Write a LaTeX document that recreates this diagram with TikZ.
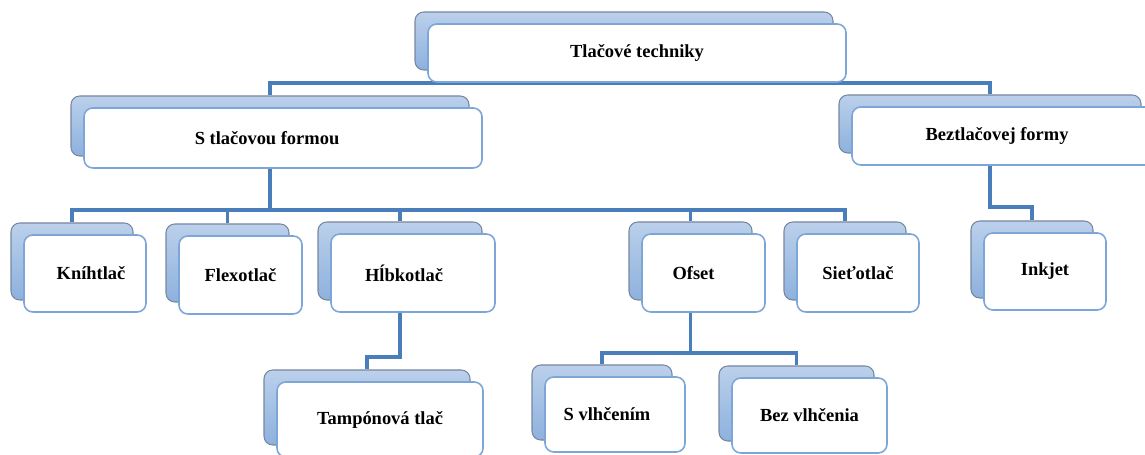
\documentclass[tikz,border=0pt]{standalone}
\usepackage{fontspec}
\setmainfont{Liberation Serif}
\usetikzlibrary{backgrounds}

\definecolor{linkblue}{RGB}{74,126,187}
\definecolor{backtop}{RGB}{187,208,235}
\definecolor{backbot}{RGB}{141,177,222}
\definecolor{backedge}{RGB}{120,135,158}
\definecolor{frontedge}{RGB}{125,166,216}

\begin{document}
\begin{tikzpicture}[x=0.02cm,y=-0.02cm,
  box/.style 2 args={minimum width=#1*0.02cm,minimum height=#2*0.02cm,inner sep=0pt},
  back/.style={draw=backedge,top color=backtop,bottom color=backbot,line width=0.6pt,rounded corners=5pt},
  front/.style={draw=frontedge,fill=white,line width=0.9pt,rounded corners=5pt,
    font=\bfseries\fontsize{10.5}{12}\selectfont},
  tl/.style={execute at end node={\hspace*{#1}}},
  tr/.style={execute at begin node={\hspace*{#1}}},
  link/.style={draw=linkblue,line width=2.1pt}]

\useasboundingbox (0,0) rectangle (1145,455);

% offset of the white box on top of the blue one
\def\dx{13}
\def\dy{12}

% level 0
\node[back,box={418}{58}] (topB) at (624,41) {};
\node[front,box={418}{58}] (top) at ([shift={(\dx,\dy)}]topB) {Tlačové techniky};

% level 1
\node[back,box={398}{60}] (stfB) at (270,126) {};
\node[front,box={398}{60},tl=0.64cm] (stf) at ([shift={(\dx,\dy)}]stfB) {S tlačovou formou};
\node[back,box={302}{58}] (bezB) at (990,124) {};
\node[front,box={302}{58},tl=0.24cm] (bez) at ([shift={(\dx,\dy)}]bezB) {Beztlačovej formy};

% level 2
\node[back,box={122}{77}] (knB) at (72,261.5) {};
\node[front,box={122}{77},tr=0.24cm] (kn) at ([shift={(\dx,\dy)}]knB) {Kníhtlač};
\node[back,box={123}{78}] (flB) at (227.5,263) {};
\node[front,box={123}{78}] (fl) at ([shift={(\dx,\dy)}]flB) {Flexotlač};
\node[back,box={164}{78}] (hlB) at (400,261) {};
\node[front,box={164}{78},tl=0.36cm] (hl) at ([shift={(\dx,\dy)}]hlB) {Hĺbkotlač};
\node[back,box={123}{78}] (ofB) at (690.5,261) {};
\node[front,box={123}{78},tl=0.4cm] (of) at ([shift={(\dx,\dy)}]ofB) {Ofset};
\node[back,box={122}{78}] (siB) at (845,261) {};
\node[front,box={122}{78}] (si) at ([shift={(\dx,\dy)}]siB) {Sieťotlač};
\node[back,box={122}{77}] (inB) at (1032,259.5) {};
\node[front,box={122}{77}] (in) at ([shift={(\dx,\dy)}]inB) {Inkjet};

% level 3
\node[back,box={206}{75}] (taB) at (367,407.5) {};
\node[front,box={206}{75}] (ta) at ([shift={(\dx,\dy)}]taB) {Tampónová tlač};
\node[back,box={140}{75}] (svB) at (602,402.5) {};
\node[front,box={140}{75},tl=0.32cm] (sv) at ([shift={(\dx,\dy)}]svB) {S vlhčením};
\node[back,box={155}{75}] (bvB) at (796.5,403.5) {};
\node[front,box={155}{75}] (bv) at ([shift={(\dx,\dy)}]bvB) {Bez vlhčenia};

% bus heights
\coordinate (bus1) at (0,83);
\coordinate (bus2) at (0,210);
\coordinate (bus3) at (0,207);
\coordinate (bus4) at (0,357);
\coordinate (bus5) at (0,353);

% connectors behind the boxes
\begin{pgfonlayer}{background}
\foreach \c in {stfB,bezB}
  \draw[link] (topB.south) -- (topB.south |- bus1) -| (\c.north);
\foreach \c in {knB,flB,hlB,ofB,siB}
  \draw[link] (stfB.south) -- (stfB.south |- bus2) -| (\c.north);
\draw[link] (bezB.south) -- (bezB.south |- bus3) -| (inB.north);
\draw[link] (hlB.south) -- (hlB.south |- bus4) -| (taB.north);
\foreach \c in {svB,bvB}
  \draw[link] (ofB.south) -- (ofB.south |- bus5) -| (\c.north);
\end{pgfonlayer}

\end{tikzpicture}
\end{document}
